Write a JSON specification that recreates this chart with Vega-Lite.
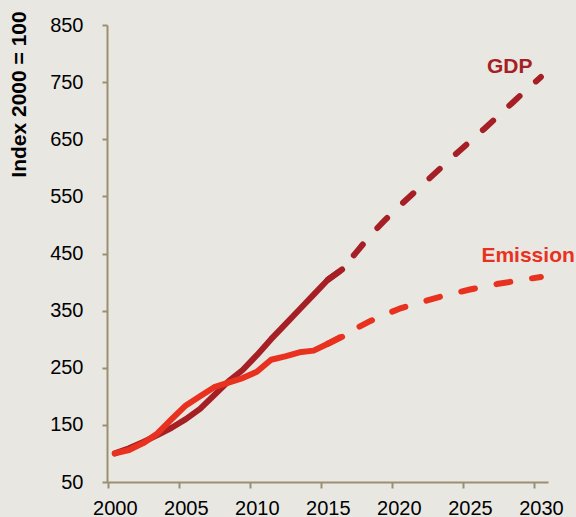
{
  "$schema": "https://vega.github.io/schema/vega-lite/v6.json",
  "width": 441,
  "height": 457,
  "autosize": {"type": "none"},
  "padding": {"left": 107, "top": 25, "right": 28, "bottom": 35},
  "background": "#e8e7e2",
  "config": {
    "view": {"stroke": null},
    "font": "Liberation Sans",
    "axis": {
      "grid": false,
      "domainColor": "#9b8f73",
      "tickColor": "#9b8f73",
      "domainWidth": 2,
      "tickWidth": 2,
      "labelColor": "#000000",
      "labelFont": "Liberation Sans",
      "labelFontSize": 20,
      "labelFlush": false,
      "labelOverlap": false,
      "titleColor": "#000000",
      "titleFont": "Liberation Sans"
    }
  },
  "datasets": {
    "lines": [
      {"series": "GDP", "part": "actual", "year": 2000, "value": 100},
      {"series": "GDP", "part": "actual", "year": 2001, "value": 109},
      {"series": "GDP", "part": "actual", "year": 2002, "value": 120},
      {"series": "GDP", "part": "actual", "year": 2003, "value": 132},
      {"series": "GDP", "part": "actual", "year": 2004, "value": 145},
      {"series": "GDP", "part": "actual", "year": 2005, "value": 160},
      {"series": "GDP", "part": "actual", "year": 2006, "value": 178},
      {"series": "GDP", "part": "actual", "year": 2007, "value": 202},
      {"series": "GDP", "part": "actual", "year": 2008, "value": 226},
      {"series": "GDP", "part": "actual", "year": 2009, "value": 246},
      {"series": "GDP", "part": "actual", "year": 2010, "value": 272},
      {"series": "GDP", "part": "actual", "year": 2011, "value": 300},
      {"series": "GDP", "part": "actual", "year": 2012, "value": 326},
      {"series": "GDP", "part": "actual", "year": 2013, "value": 352},
      {"series": "GDP", "part": "actual", "year": 2014, "value": 378},
      {"series": "GDP", "part": "actual", "year": 2015, "value": 404},
      {"series": "GDP", "part": "actual", "year": 2016, "value": 422},
      {"series": "GDP", "part": "projection", "year": 2015, "value": 404},
      {"series": "GDP", "part": "projection", "year": 2016, "value": 422},
      {"series": "GDP", "part": "projection", "year": 2017, "value": 452},
      {"series": "GDP", "part": "projection", "year": 2018, "value": 482},
      {"series": "GDP", "part": "projection", "year": 2019, "value": 508},
      {"series": "GDP", "part": "projection", "year": 2020, "value": 532},
      {"series": "GDP", "part": "projection", "year": 2021, "value": 555},
      {"series": "GDP", "part": "projection", "year": 2022, "value": 578},
      {"series": "GDP", "part": "projection", "year": 2023, "value": 601},
      {"series": "GDP", "part": "projection", "year": 2024, "value": 624},
      {"series": "GDP", "part": "projection", "year": 2025, "value": 646},
      {"series": "GDP", "part": "projection", "year": 2026, "value": 668},
      {"series": "GDP", "part": "projection", "year": 2027, "value": 691},
      {"series": "GDP", "part": "projection", "year": 2028, "value": 714},
      {"series": "GDP", "part": "projection", "year": 2029, "value": 737},
      {"series": "GDP", "part": "projection", "year": 2030, "value": 759},
      {"series": "Emission", "part": "actual", "year": 2000, "value": 100},
      {"series": "Emission", "part": "actual", "year": 2001, "value": 106},
      {"series": "Emission", "part": "actual", "year": 2002, "value": 118},
      {"series": "Emission", "part": "actual", "year": 2003, "value": 135},
      {"series": "Emission", "part": "actual", "year": 2004, "value": 160},
      {"series": "Emission", "part": "actual", "year": 2005, "value": 184},
      {"series": "Emission", "part": "actual", "year": 2006, "value": 200},
      {"series": "Emission", "part": "actual", "year": 2007, "value": 216},
      {"series": "Emission", "part": "actual", "year": 2008, "value": 224},
      {"series": "Emission", "part": "actual", "year": 2009, "value": 232},
      {"series": "Emission", "part": "actual", "year": 2010, "value": 243},
      {"series": "Emission", "part": "actual", "year": 2011, "value": 264},
      {"series": "Emission", "part": "actual", "year": 2012, "value": 270},
      {"series": "Emission", "part": "actual", "year": 2013, "value": 277},
      {"series": "Emission", "part": "actual", "year": 2014, "value": 280},
      {"series": "Emission", "part": "actual", "year": 2015, "value": 292},
      {"series": "Emission", "part": "actual", "year": 2016, "value": 304},
      {"series": "Emission", "part": "projection", "year": 2015, "value": 292},
      {"series": "Emission", "part": "projection", "year": 2016, "value": 305},
      {"series": "Emission", "part": "projection", "year": 2017, "value": 319},
      {"series": "Emission", "part": "projection", "year": 2018, "value": 332},
      {"series": "Emission", "part": "projection", "year": 2019, "value": 343},
      {"series": "Emission", "part": "projection", "year": 2020, "value": 353},
      {"series": "Emission", "part": "projection", "year": 2021, "value": 361},
      {"series": "Emission", "part": "projection", "year": 2022, "value": 368},
      {"series": "Emission", "part": "projection", "year": 2023, "value": 375},
      {"series": "Emission", "part": "projection", "year": 2024, "value": 381},
      {"series": "Emission", "part": "projection", "year": 2025, "value": 387},
      {"series": "Emission", "part": "projection", "year": 2026, "value": 392},
      {"series": "Emission", "part": "projection", "year": 2027, "value": 397},
      {"series": "Emission", "part": "projection", "year": 2028, "value": 401},
      {"series": "Emission", "part": "projection", "year": 2029, "value": 405},
      {"series": "Emission", "part": "projection", "year": 2030, "value": 409}
    ],
    "labels": [
      {"label": "GDP", "year": 2027.8, "value": 766},
      {"label": "Emission", "year": 2029.1, "value": 435}
    ]
  },
  "encoding": {
    "x": {
      "field": "year",
      "type": "quantitative",
      "scale": {"domain": [1999.45, 2030.5], "nice": false, "zero": false},
      "axis": {
        "title": null,
        "values": [2000, 2005, 2010, 2015, 2020, 2025, 2030],
        "format": "d",
        "tickOffset": -6.5,
        "labelOffset": 6.5,
        "tickSize": 6,
        "labelPadding": 10
      }
    },
    "y": {
      "field": "value",
      "type": "quantitative",
      "scale": {"domain": [50, 850], "nice": false, "zero": false},
      "axis": {
        "values": [50, 150, 250, 350, 450, 550, 650, 750, 850],
        "title": "Index 2000 = 100",
        "titleFontSize": 21,
        "titleFontWeight": "bold",
        "titleAngle": 270,
        "titleAlign": "center",
        "titleBaseline": "alphabetic",
        "titleX": -82,
        "titleY": 69,
        "tickSize": 5,
        "labelPadding": 19
      }
    }
  },
  "layer": [
    {
      "data": {"name": "lines"},
      "transform": [{"filter": "datum.series === 'GDP' && datum.part === 'actual'"}],
      "mark": {"type": "line", "color": "#a51f24", "strokeWidth": 6, "strokeCap": "round", "strokeJoin": "round"}
    },
    {
      "data": {"name": "lines"},
      "transform": [{"filter": "datum.series === 'GDP' && datum.part === 'projection'"}],
      "mark": {"type": "line", "color": "#a51f24", "strokeWidth": 6, "strokeCap": "round", "strokeJoin": "round", "strokeDash": [14, 22]}
    },
    {
      "data": {"name": "lines"},
      "transform": [{"filter": "datum.series === 'Emission' && datum.part === 'actual'"}],
      "mark": {"type": "line", "color": "#e8321f", "strokeWidth": 6, "strokeCap": "round", "strokeJoin": "round"}
    },
    {
      "data": {"name": "lines"},
      "transform": [{"filter": "datum.series === 'Emission' && datum.part === 'projection'"}],
      "mark": {"type": "line", "color": "#e8321f", "strokeWidth": 6, "strokeCap": "round", "strokeJoin": "round", "strokeDash": [14, 22]}
    },
    {
      "data": {"name": "labels"},
      "mark": {"type": "text", "fontSize": 21, "fontWeight": "bold", "align": "center", "baseline": "alphabetic", "font": "Liberation Sans"},
      "encoding": {
        "text": {"field": "label", "type": "nominal"},
        "color": {
          "field": "label",
          "type": "nominal",
          "scale": {"domain": ["GDP", "Emission"], "range": ["#a51f24", "#e8321f"]},
          "legend": null
        }
      }
    }
  ]
}
